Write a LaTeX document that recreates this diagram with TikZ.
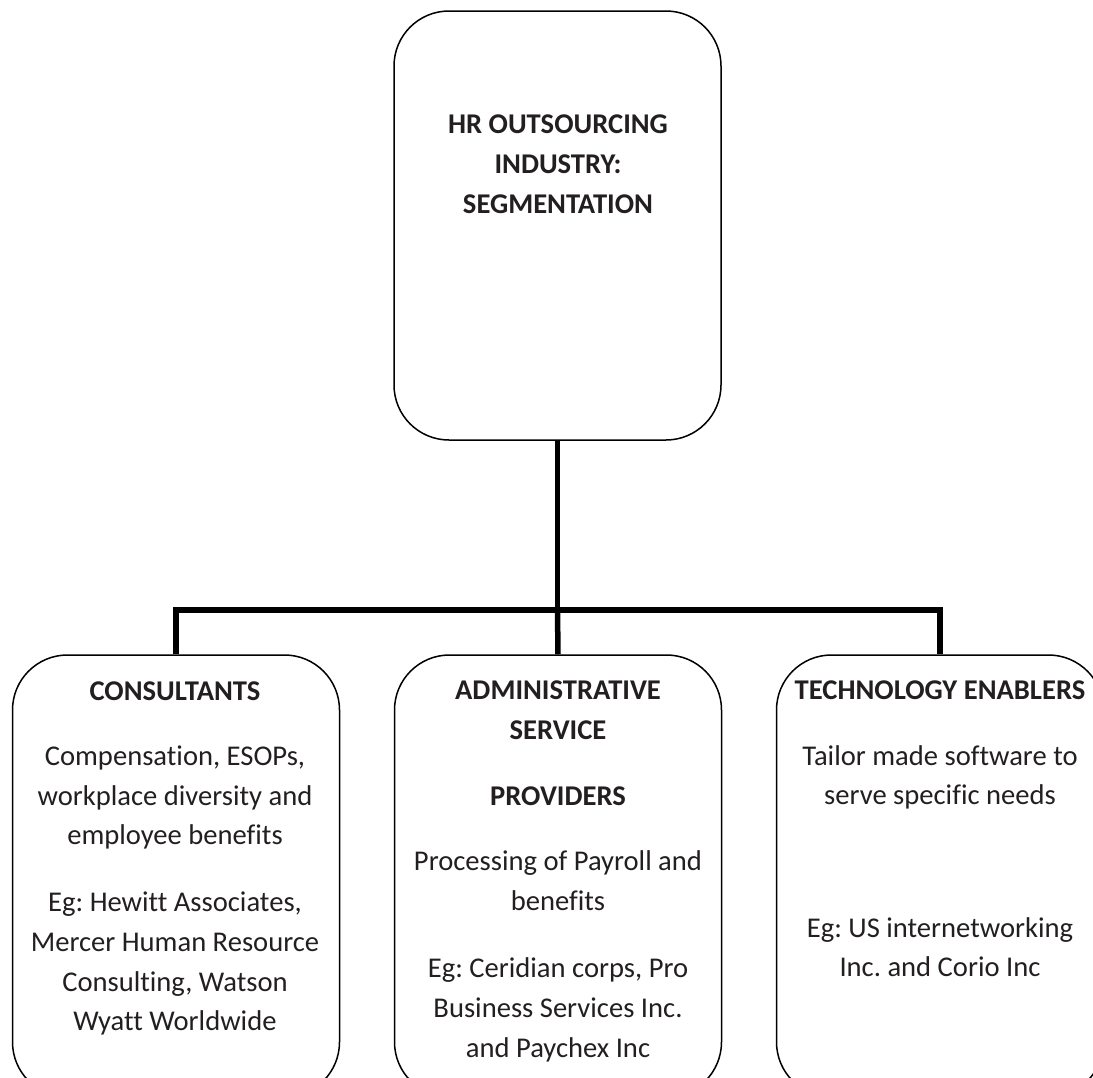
\documentclass[tikz,border=0pt]{standalone}
\usepackage{fontspec}
\setmainfont{Carlito}[Ligatures=NoCommon]
\definecolor{txt}{RGB}{35,31,32}
\frenchspacing
\begin{document}
\begin{tikzpicture}[x=1pt,y=1pt,
  box/.style={draw=black,line width=1.5pt,rounded corners=55pt,minimum width=327pt,inner sep=0pt},
  conn/.style={draw=black,line width=5.5pt,line join=miter},
  lbl/.style={anchor=base,inner sep=0pt,text=txt,font=\fontsize{28.6}{32}\selectfont},
  hd/.style={lbl,font=\fontsize{28.6}{32}\selectfont\bfseries}]
\clip (0,0) rectangle (1093,-1077);
\node[box,minimum height=429pt] (top) at (557.5,-225.5) {};
\node[box,minimum height=442pt] (left) at (176,-876) {};
\node[box,minimum height=442pt] (mid) at (558,-876) {};
\node[box,minimum height=442pt] (right) at (940,-876) {};
\coordinate (j) at (557.5,-610);
\draw[conn] (top.south) -- (j);
\draw[conn] (left.north) |- (j) -| (right.north);
\draw[conn] (j) -- (mid.north);
% top texts
\node[hd] (t1) at (558,-133) {HR OUTSOURCING};
\node[hd] (t2) at (558,-173) {INDUSTRY:};
\node[hd] (t3) at (558,-213) {SEGMENTATION};
% left
\node[hd] (l1) at (175,-700) {CONSULTANTS};
\node[lbl] (l2) at (175,-765) {Compensation, ESOPs,};
\node[lbl] (l3) at (175,-805) {workplace diversity and};
\node[lbl] (l4) at (175,-844) {employee benefits};
\node[lbl] (l5) at (175,-911) {Eg: Hewitt Associates,};
\node[lbl] (l6) at (175,-951) {Mercer Human Resource};
\node[lbl] (l7) at (175,-991) {Consulting, Watson};
\node[lbl] (l8) at (175,-1030) {Wyatt Worldwide};
% middle
\node[hd] (m1) at (558,-699) {ADMINISTRATIVE};
\node[hd] (m2) at (558,-739) {SERVICE};
\node[hd] (m3) at (558,-805) {PROVIDERS};
\node[lbl] (m4) at (558,-870) {Processing of Payroll and};
\node[lbl] (m5) at (558,-910) {benefits};
\node[lbl] (m6) at (558,-977) {Eg: Ceridian corps, Pro};
\node[lbl] (m7) at (558,-1017) {Business Services Inc.};
\node[lbl] (m8) at (558,-1057) {and Paychex Inc};
% right
\node[hd] (r1) at (940,-699) {TECHNOLOGY ENABLERS};
\node[lbl] (r2) at (940,-765) {Tailor made software to};
\node[lbl] (r3) at (940,-804) {serve specific needs};
\node[lbl] (r4) at (940,-937) {Eg: US internetworking};
\node[lbl] (r5) at (940,-976) {Inc. and Corio Inc};
\end{tikzpicture}
\end{document}
